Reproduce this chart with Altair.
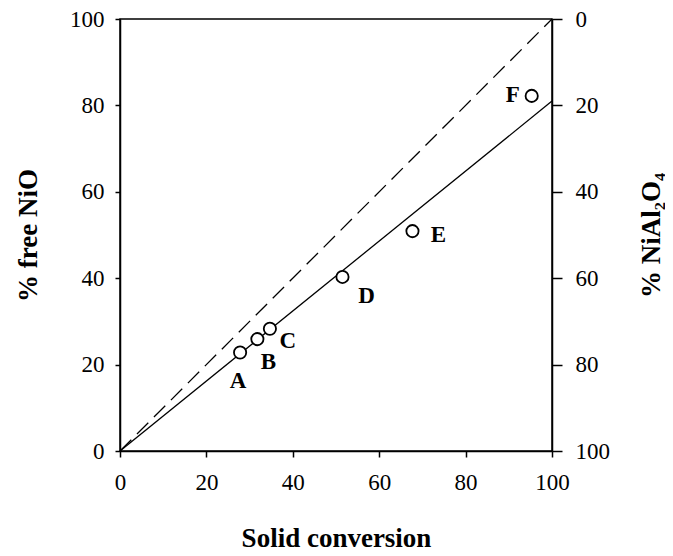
import altair as alt
import pandas as pd

# ---- data ----
point_labels = ["A", "B", "C", "D", "E", "F"]
conversion = [27.8, 31.8, 34.7, 51.5, 67.7, 95.3]
free_nio = [22.8, 25.9, 28.3, 40.3, 50.9, 82.2]

line_x = [0, 100]
solid_y = [0, 81]
dashed_y = [0, 100]

tick_values = [0, 20, 40, 60, 80, 100]

# label offsets (pixels) relative to each point
label_offsets = {"A": (-2, 28), "B": (11, 23), "C": (18, 12),
                 "D": (24, 19), "E": (26, 4), "F": (-19, -1)}

FONT = "Liberation Serif"

pts = pd.DataFrame({"label": point_labels, "x": conversion, "y": free_nio})
solid = pd.DataFrame({"x": line_x, "y": solid_y})
dashed = pd.DataFrame({"x": line_x, "y": dashed_y})
right = pd.DataFrame({"v": tick_values})

xscale = alt.Scale(domain=[0, 100], nice=False, zero=False)
yscale = alt.Scale(domain=[0, 100], nice=False, zero=False)

x_axis = alt.Axis(values=tick_values, tickSize=6, labelPadding=14,
                  titlePadding=31, title="Solid conversion")
y_axis = alt.Axis(values=tick_values, tickSize=5, labelPadding=11,
                  titlePadding=27, title="% free NiO", orient="left")

xenc = alt.X("x:Q", scale=xscale, axis=x_axis)
yenc = alt.Y("y:Q", scale=yscale, axis=y_axis)

solid_line = alt.Chart(solid).mark_line(color="black", strokeWidth=1.3).encode(
    x=xenc, y=yenc)
dashed_line = alt.Chart(dashed).mark_line(
    color="black", strokeWidth=1.3, strokeDash=[16, 8]).encode(
    x=alt.X("x:Q", scale=xscale, axis=x_axis), y=alt.Y("y:Q", scale=yscale, axis=y_axis))
points = alt.Chart(pts).mark_point(
    shape="circle", size=150, filled=False, color="black", fill="white",
    fillOpacity=1, strokeWidth=1.8, opacity=1).encode(
    x=alt.X("x:Q", scale=xscale, axis=x_axis), y=alt.Y("y:Q", scale=yscale, axis=y_axis))

texts = []
for lab in point_labels:
    dx, dy = label_offsets[lab]
    texts.append(
        alt.Chart(pts).transform_filter(alt.datum.label == lab).mark_text(
            font=FONT, fontSize=23, fontWeight="bold", color="black",
            dx=dx, dy=dy, align="center", baseline="middle").encode(
            x=alt.X("x:Q", scale=xscale, axis=x_axis),
            y=alt.Y("y:Q", scale=yscale, axis=y_axis),
            text="label:N"))

left_layer = alt.layer(dashed_line, solid_line, points, *texts)

right_layer = alt.Chart(right).mark_point(opacity=0).encode(
    y=alt.Y("v:Q",
            scale=alt.Scale(domain=[0, 100], reverse=True, nice=False, zero=False),
            axis=alt.Axis(orient="right", values=tick_values, tickSize=10,
                          labelPadding=13, titlePadding=56, titleAngle=270,
                          title="% NiAl₂O₄")))

chart = alt.layer(left_layer, right_layer).resolve_scale(y="independent").properties(
    width=432, height=432,
    padding={"left": 112, "top": 11, "right": 113, "bottom": 100},
    autosize=alt.AutoSizeParams(type="none"),
).configure_view(stroke="black", strokeWidth=1.5).configure_axis(
    labelFont=FONT, labelFontSize=23, labelColor="black",
    titleFont=FONT, titleFontSize=27, titleFontWeight="bold", titleColor="black",
    domainColor="black", domainWidth=1.5, tickColor="black", tickWidth=1.5,
    grid=False, labelFlush=False, labelOverlap=False,
)

chart.save("out.html", embed_options={"renderer": "svg", "actions": False})
